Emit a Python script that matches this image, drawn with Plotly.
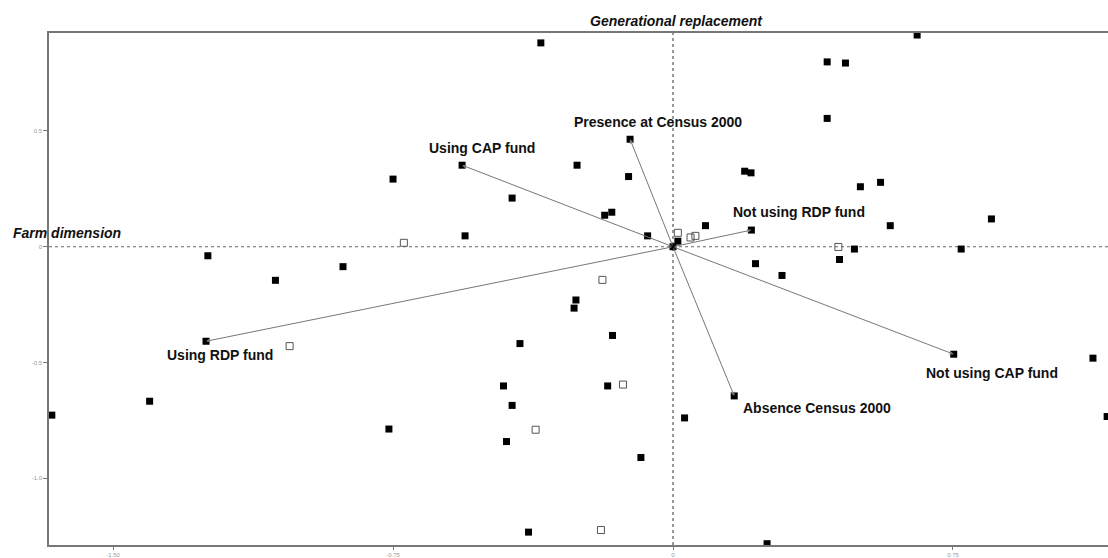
import plotly.graph_objects as go

# ---- data ----
filled_x = [-0.354, -0.750, -0.431, -0.557, -1.246, -0.884, 0.654, 0.413, 0.462, 0.413,
            -0.257, -0.119, 0.192, 0.209, 0.502, 0.556, -0.183, -0.164, 0.853, 0.087,
            0.582, -0.068, 0.013, 0.0, 0.486, 0.772, 0.221, 0.446, 0.292, -1.065,
            -0.410, -0.454, -0.431, -1.402, -1.664, -0.761, -0.446, -0.387, -0.260, -0.265,
            -0.162, -0.175, 0.031, -0.086, 0.252, 1.125, 1.163]
filled_y = [0.880, 0.292, 0.210, 0.047, -0.039, -0.086, 0.914, 0.798, 0.793, 0.554,
            0.352, 0.303, 0.326, 0.319, 0.259, 0.278, 0.136, 0.149, 0.120, 0.091,
            0.091, 0.047, 0.024, 0.0, -0.010, -0.010, -0.073, -0.055, -0.124, -0.145,
            -0.418, -0.601, -0.685, -0.667, -0.727, -0.787, -0.841, -1.232, -0.230, -0.265,
            -0.383, -0.601, -0.739, -0.910, -1.282, -0.481, -0.733]

open_x = [-0.721, 0.013, 0.047, 0.060, 0.443, -1.027, -0.368, -0.189, -0.134, -0.193]
open_y = [0.017, 0.060, 0.040, 0.047, -0.001, -0.429, -0.790, -0.143, -0.595, -1.223]

vector_labels = ["Using CAP fund", "Presence at Census 2000", "Not using RDP fund",
                 "Using RDP fund", "Absence Census 2000", "Not using CAP fund"]
vector_x = [-0.565, -0.115, 0.210, -1.251, 0.164, 0.752]
vector_y = [0.352, 0.464, 0.072, -0.408, -0.644, -0.464]

x_tick_vals = [-1.5, -0.75, 0, 0.75]
x_tick_text = ["-1.50", "-0.75", "0", "0.75"]
y_tick_vals = [0.5, 0, -0.5, -1.0]
y_tick_text = ["0.5", "0", "-0.5", "-1.0"]

x_title = "Farm dimension"
y_title = "Generational replacement"

# ---- styles ----
label_shift = [(20, 17), (28, 17), (48, 18), (14, -14), (83, -12), (38, -19)]
FONT = "Liberation Sans, Arial, sans-serif"

fig = go.Figure()

fig.add_trace(go.Scatter(
    x=filled_x + vector_x, y=filled_y + vector_y, mode="markers",
    marker=dict(symbol="square", size=7, color="black", line=dict(width=0)),
    showlegend=False, hoverinfo="skip"))

fig.add_trace(go.Scatter(
    x=open_x, y=open_y, mode="markers",
    marker=dict(symbol="square-open", size=7, color="#555", line=dict(width=1)),
    showlegend=False, hoverinfo="skip"))

# reference lines at zero
fig.add_shape(type="line", xref="paper", yref="y", x0=0, x1=1, y0=0, y1=0,
              line=dict(color="#666", width=1, dash="dot"), layer="below")
fig.add_shape(type="line", xref="x", yref="paper", x0=0, x1=0, y0=0, y1=1,
              line=dict(color="#333", width=1, dash="dot"), layer="below")

# vectors
for lab, vx, vy, (dx, dy) in zip(vector_labels, vector_x, vector_y, label_shift):
    fig.add_annotation(x=vx, y=vy, ax=0, ay=0, xref="x", yref="y", axref="x", ayref="y",
                       text="", showarrow=True, arrowhead=2, arrowsize=0.8,
                       arrowwidth=1, arrowcolor="#777", standoff=0, startstandoff=0)
    fig.add_annotation(x=vx, y=vy, xref="x", yref="y", text="<b>%s</b>" % lab,
                       showarrow=False, xshift=dx, yshift=dy,
                       font=dict(family=FONT, size=14, color="#111"))

# axis titles
fig.add_annotation(x=0, y=0, xref="paper", yref="y", text="<b><i>%s</i></b>" % x_title,
                   showarrow=False, xanchor="left", yanchor="middle",
                   xshift=-38, yshift=14, font=dict(family=FONT, size=14, color="#111"))
fig.add_annotation(x=0, y=1, xref="x", yref="paper", text="<b><i>%s</i></b>" % y_title,
                   showarrow=False, xanchor="center", yanchor="middle",
                   xshift=3, yshift=12, font=dict(family=FONT, size=14, color="#111"))

fig.update_layout(
    width=1108, height=558,
    margin=dict(l=49, r=0, t=33, b=10),
    paper_bgcolor="white", plot_bgcolor="white",
    font=dict(family=FONT),
    xaxis=dict(range=[-1.6716, 1.1653], tickvals=x_tick_vals, ticktext=x_tick_text,
               showgrid=False, zeroline=False, showline=True, linecolor="#777",
               linewidth=1.5, mirror=True, ticks="outside", ticklen=3, tickcolor="#777",
               tickfont=dict(size=6, color="#999")),
    yaxis=dict(range=[-1.2876, 0.9227], tickvals=y_tick_vals, ticktext=y_tick_text,
               showgrid=False, zeroline=False, showline=True, linecolor="#777",
               linewidth=1.5, ticks="outside", ticklen=4, tickcolor="#777",
               tickfont=dict(size=6, color="#999")),
)

fig.write_html("out.html", config={"displayModeBar": False},
               post_script="document.body.style.margin='0';document.body.style.overflow='hidden';")
